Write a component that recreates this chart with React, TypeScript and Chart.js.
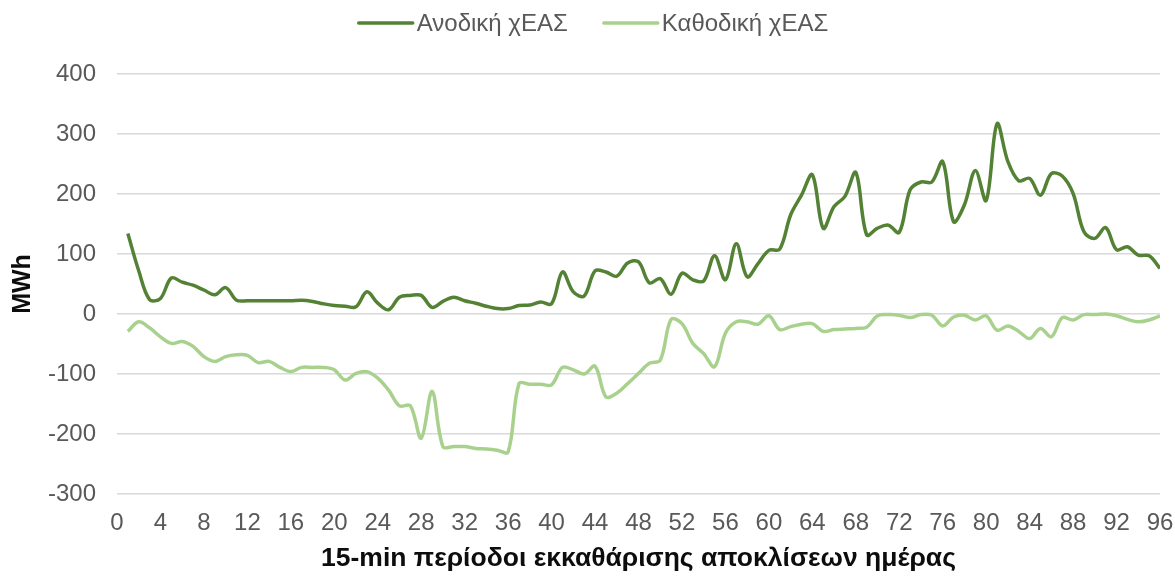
import React, { useEffect, useRef } from "react";
import { Chart, registerables } from "chart.js";

Chart.register(...registerables);

// ---- Data ----
const periods = [
  1, 2, 3, 4, 5, 6, 7, 8, 9, 10, 11, 12, 13, 14, 15, 16, 17, 18, 19, 20, 21, 22, 23, 24,
  25, 26, 27, 28, 29, 30, 31, 32, 33, 34, 35, 36, 37, 38, 39, 40, 41, 42, 43, 44, 45, 46, 47, 48,
  49, 50, 51, 52, 53, 54, 55, 56, 57, 58, 59, 60, 61, 62, 63, 64, 65, 66, 67, 68, 69, 70, 71, 72,
  73, 74, 75, 76, 77, 78, 79, 80, 81, 82, 83, 84, 85, 86, 87, 88, 89, 90, 91, 92, 93, 94, 95, 96,
];

const upwardValues = [
  134, 72, 24, 26, 60, 53, 48, 40, 32, 44, 23, 22, 22, 22, 22, 22, 23, 21, 17, 14, 13, 12, 37, 18,
  7, 28, 31, 31, 11, 21, 28, 22, 18, 13, 9, 9, 14, 15, 20, 17, 70, 37, 30, 72, 70, 63, 85, 87,
  52, 59, 33, 68, 57, 55, 97, 57, 117, 62, 84, 106, 108, 165, 198, 232, 143, 179, 196, 236, 132, 143, 148, 136,
  207, 220, 220, 254, 154, 182, 239, 189, 317, 254, 222, 226, 198, 234, 230, 201, 137, 126, 144, 107, 112, 98, 97, 76,
];

const downwardValues = [
  -29, -13, -23, -38, -49, -46, -54, -71, -79, -71, -68, -69, -81, -79, -89, -96, -89, -89, -89, -93, -110, -99, -96, -107,
  -127, -153, -153, -207, -129, -221, -221, -221, -224, -225, -227, -230, -116, -117, -117, -118, -89, -93, -100, -87, -138, -132, -116, -99,
  -82, -77, -9, -16, -49, -66, -88, -32, -13, -13, -17, -3, -26, -21, -17, -16, -29, -26, -25, -24, -22, -3, -1, -2,
  -6, -1, -2, -20, -5, -2, -10, -3, -27, -20, -29, -41, -24, -38, -6, -10, -1, -1, 0, -3, -9, -13, -10, -3,
];

const seriesNames = ["Ανοδική χΕΑΣ", "Καθοδική χΕΑΣ"];
const seriesColors = ["#548235", "#A9D18E"];

const xMin = 0;
const xMax = 96;
const xStep = 4;
const yMin = -300;
const yMax = 400;
const yStep = 100;

const yTitle = "MWh";
const xTitle = "15-min περίοδοι εκκαθάρισης αποκλίσεων ημέρας";

// ---- Style ----
const FONT = "'Liberation Sans', Arial, sans-serif";
const TEXT = "#595959";
const TITLE = "#0d0d0d";

const lineLegend = {
  id: "lineLegend",
  afterDraw(chart: any) {
    const ctx = chart.ctx;
    ctx.save();
    ctx.font = `24px ${FONT}`;
    const lineLen = 54;
    const gapText = 4;
    const gapItem = 36;
    const items = chart.data.datasets.map((ds: any) => ({
      label: ds.label,
      color: ds.borderColor,
      w: ctx.measureText(ds.label).width,
    }));
    const total =
      items.reduce((s: number, it: any) => s + lineLen + gapText + it.w, 0) +
      gapItem * (items.length - 1);
    let x = 593.5 - total / 2;
    const y = 23;
    ctx.textBaseline = "middle";
    ctx.textAlign = "left";
    items.forEach((it: any) => {
      ctx.strokeStyle = it.color;
      ctx.lineWidth = 3.5;
      ctx.lineCap = "round";
      ctx.beginPath();
      ctx.moveTo(x, y);
      ctx.lineTo(x + lineLen, y);
      ctx.stroke();
      x += lineLen + gapText;
      ctx.fillStyle = TEXT;
      ctx.fillText(it.label, x, y + 1);
      x += it.w + gapItem;
    });
    ctx.restore();
  },
};

export default function App() {
  const canvasRef = useRef<HTMLCanvasElement | null>(null);

  useEffect(() => {
    if (!canvasRef.current) return;
    const seriesValues = [upwardValues, downwardValues];
    const chart = new Chart(canvasRef.current, {
      type: "line",
      data: {
        datasets: seriesNames.map((name, i) => ({
          label: name,
          data: periods.map((p, j) => ({ x: p, y: seriesValues[i][j] })),
          borderColor: seriesColors[i],
          backgroundColor: seriesColors[i],
          borderWidth: 3.5,
          pointRadius: 0,
          pointHoverRadius: 0,
          tension: 0.35,
          fill: false,
        })),
      },
      options: {
        animation: false,
        responsive: true,
        maintainAspectRatio: false,
        devicePixelRatio: 1,
        layout: { padding: { top: 74, right: 0, bottom: 0, left: 0 } },
        plugins: {
          legend: { display: false },
          tooltip: { enabled: false },
        },
        scales: {
          x: {
            type: "linear",
            min: xMin,
            max: xMax,
            afterFit: (scale: any) => {
              scale.height = 82;
              scale.paddingRight = 15;
              scale.paddingLeft = 0;
            },
            ticks: {
              stepSize: xStep,
              color: TEXT,
              font: { family: FONT, size: 24 },
              padding: 15,
              maxRotation: 0,
              autoSkip: false,
            },
            grid: { display: false, drawTicks: false },
            border: { display: false },
            title: {
              display: true,
              text: xTitle,
              color: TITLE,
              font: { family: FONT, size: 26.5, weight: "bold" },
              padding: { top: 0, bottom: 1 },
            },
          },
          y: {
            min: yMin,
            max: yMax,
            afterFit: (scale: any) => {
              scale.width = 117;
            },
            ticks: {
              stepSize: yStep,
              color: TEXT,
              font: { family: FONT, size: 24 },
              padding: 21,
            },
            grid: { color: "#d9d9d9", lineWidth: 1.5, drawTicks: false },
            border: { display: false },
            title: {
              display: true,
              text: yTitle,
              color: TITLE,
              font: { family: FONT, size: 25, weight: "bold" },
              padding: { top: 8, bottom: 0 },
            },
          },
        },
      },
      plugins: [lineLegend],
    });
    return () => chart.destroy();
  }, []);

  return (
    <div style={{ position: "fixed", left: 0, top: 0, width: 1175, height: 576, background: "#fff" }}>
      <canvas ref={canvasRef} />
    </div>
  );
}
